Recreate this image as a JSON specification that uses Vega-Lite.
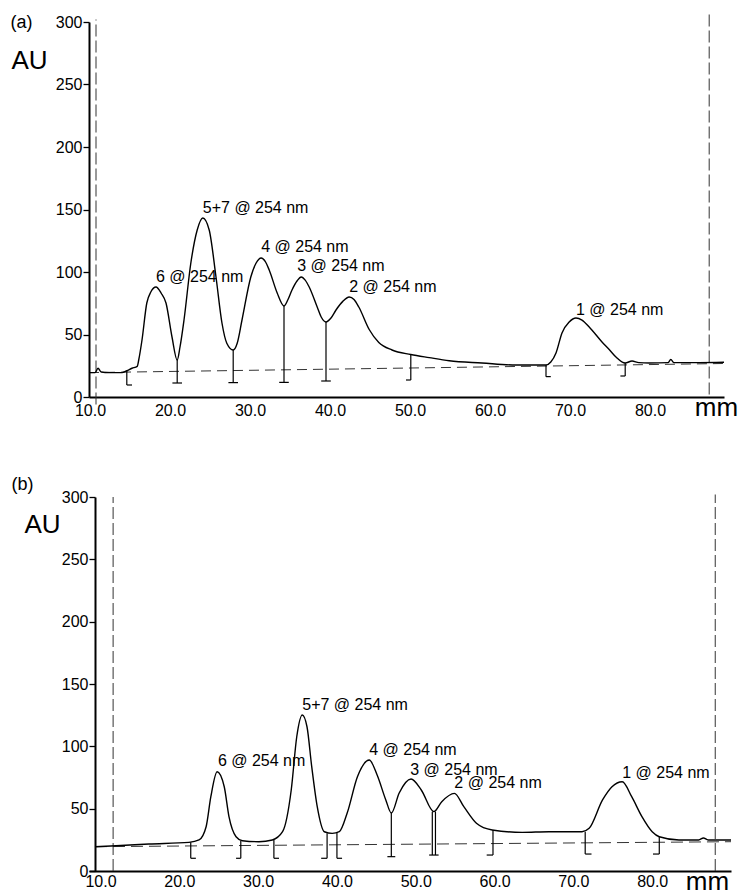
{
  "$schema": "https://vega.github.io/schema/vega-lite/v6.json",
  "autosize": {"type": "pad"},
  "padding": {"left": 10, "top": 13, "right": 0, "bottom": 0},
  "background": "white",
  "bounds": "flush",
  "spacing": 100,
  "config": {
    "view": {"stroke": null},
    "font": "Liberation Sans",
    "axis": {"grid": false, "domainColor": "black", "tickColor": "black", "labelColor": "black", "titleColor": "black", "labelFont": "Liberation Sans", "titleFont": "Liberation Sans", "titleFontWeight": "normal"}
  },
  "datasets": {
    "curveA": [
      {"mm": 9.875, "au": 19.5}, {"mm": 10.63, "au": 19.5}, {"mm": 11.0, "au": 23}, {"mm": 11.4, "au": 20}, {"mm": 12.4, "au": 19.5}, {"mm": 14.0, "au": 19.5}, {"mm": 14.6, "au": 21}, {"mm": 15.25, "au": 23}, {"mm": 15.9, "au": 24.5}, {"mm": 16.1, "au": 30}, {"mm": 16.5, "au": 45.6}, {"mm": 17.1, "au": 75.2}, {"mm": 17.6, "au": 84}, {"mm": 18.25, "au": 88}, {"mm": 18.9, "au": 83}, {"mm": 19.5, "au": 75.2}, {"mm": 20.25, "au": 48}, {"mm": 20.9, "au": 29.6}, {"mm": 21.25, "au": 40}, {"mm": 21.75, "au": 61.6}, {"mm": 22.6, "au": 107}, {"mm": 23.4, "au": 133.6}, {"mm": 24.1, "au": 143.2}, {"mm": 24.9, "au": 133.6}, {"mm": 25.75, "au": 96}, {"mm": 26.5, "au": 59}, {"mm": 27.1, "au": 43}, {"mm": 27.9, "au": 37.6}, {"mm": 28.4, "au": 43}, {"mm": 29.0, "au": 61.6}, {"mm": 30.1, "au": 96}, {"mm": 30.75, "au": 107}, {"mm": 31.4, "au": 111.2}, {"mm": 31.9, "au": 108.5}, {"mm": 32.4, "au": 101.6}, {"mm": 33.4, "au": 83.2}, {"mm": 34.25, "au": 72.8}, {"mm": 34.75, "au": 78}, {"mm": 35.25, "au": 85.6}, {"mm": 35.9, "au": 93}, {"mm": 36.4, "au": 96}, {"mm": 36.9, "au": 93.5}, {"mm": 37.4, "au": 88}, {"mm": 38.4, "au": 72}, {"mm": 38.9, "au": 64}, {"mm": 39.5, "au": 60}, {"mm": 40.1, "au": 63}, {"mm": 40.75, "au": 69.6}, {"mm": 41.6, "au": 76.5}, {"mm": 42.4, "au": 80}, {"mm": 43.0, "au": 78}, {"mm": 43.6, "au": 72}, {"mm": 44.9, "au": 54}, {"mm": 46.1, "au": 43.6}, {"mm": 47.75, "au": 37.6}, {"mm": 50.1, "au": 34}, {"mm": 52.4, "au": 31.5}, {"mm": 54.9, "au": 29}, {"mm": 59.0, "au": 27.2}, {"mm": 63.25, "au": 25.6}, {"mm": 67.0, "au": 25.6}, {"mm": 67.6, "au": 28}, {"mm": 68.25, "au": 35.2}, {"mm": 69.0, "au": 51.2}, {"mm": 69.9, "au": 60}, {"mm": 70.75, "au": 63.2}, {"mm": 71.5, "au": 61.5}, {"mm": 72.4, "au": 56}, {"mm": 74.0, "au": 44}, {"mm": 74.9, "au": 38}, {"mm": 75.75, "au": 32}, {"mm": 76.9, "au": 27.2}, {"mm": 77.75, "au": 28.8}, {"mm": 78.6, "au": 27.5}, {"mm": 79.9, "au": 27.2}, {"mm": 82.25, "au": 27.5}, {"mm": 82.6, "au": 30}, {"mm": 83.0, "au": 27.5}, {"mm": 86.1, "au": 27.5}, {"mm": 89.25, "au": 27.8}
    ],
    "baseA": [{"mm": 9.875, "au": 19.5}, {"mm": 89.25, "au": 26.8}],
    "vdashA": [{"mm": 10.75, "au": -6, "au2": 302}, {"mm": 87.4, "au": 2, "au2": 306}],
    "dropsA": [
      {"mm": 14.6, "mm2": 14.6, "au": 21, "au2": 9.6}, {"mm": 14.6, "mm2": 15.25, "au": 9.6, "au2": 9.6},
      {"mm": 20.9, "mm2": 20.9, "au": 29.6, "au2": 11.2}, {"mm": 20.3, "mm2": 21.5, "au": 11.2, "au2": 11.2},
      {"mm": 27.9, "mm2": 27.9, "au": 37.6, "au2": 11.5}, {"mm": 27.3, "mm2": 28.5, "au": 11.5, "au2": 11.5},
      {"mm": 34.25, "mm2": 34.25, "au": 72.8, "au2": 11.7}, {"mm": 33.65, "mm2": 34.85, "au": 11.7, "au2": 11.7},
      {"mm": 39.5, "mm2": 39.5, "au": 60, "au2": 12.8}, {"mm": 38.9, "mm2": 40.1, "au": 12.8, "au2": 12.8},
      {"mm": 50.1, "mm2": 50.1, "au": 34, "au2": 13.6}, {"mm": 49.5, "mm2": 50.1, "au": 13.6, "au2": 13.6},
      {"mm": 67.0, "mm2": 67.0, "au": 25.6, "au2": 16.3}, {"mm": 67.0, "mm2": 67.6, "au": 16.3, "au2": 16.3},
      {"mm": 76.9, "mm2": 76.9, "au": 27.2, "au2": 16.8}, {"mm": 76.3, "mm2": 76.9, "au": 16.8, "au2": 16.8}
    ],
    "labelsA": [
      {"mm": 18.25, "au": 96, "label": "6 @ 254 nm"},
      {"mm": 24.1, "au": 151, "label": "5+7 @ 254 nm"},
      {"mm": 31.4, "au": 120, "label": "4 @ 254 nm"},
      {"mm": 35.9, "au": 105, "label": "3 @ 254 nm"},
      {"mm": 42.4, "au": 88, "label": "2 @ 254 nm"},
      {"mm": 70.75, "au": 70, "label": "1 @ 254 nm"}
    ],
    "tagA": [{"mm": 1.44, "au": 299.6, "label": "(a)"}],
    "curveB": [
      {"mm": 9.3, "au": 19.5}, {"mm": 11.97, "au": 20.3}, {"mm": 16.15, "au": 21.7}, {"mm": 21.23, "au": 23}, {"mm": 22.5, "au": 24.9}, {"mm": 23.4, "au": 35.5}, {"mm": 24.0, "au": 59.6}, {"mm": 24.8, "au": 79.6}, {"mm": 25.7, "au": 67.6}, {"mm": 26.3, "au": 43.6}, {"mm": 27.2, "au": 27.5}, {"mm": 28.0, "au": 24.3}, {"mm": 30.1, "au": 23.5}, {"mm": 31.8, "au": 24.9}, {"mm": 33.1, "au": 31.5}, {"mm": 34.2, "au": 65}, {"mm": 34.9, "au": 107.7}, {"mm": 35.6, "au": 125.1}, {"mm": 36.2, "au": 115.7}, {"mm": 36.8, "au": 83.7}, {"mm": 37.5, "au": 51.6}, {"mm": 38.4, "au": 31.5}, {"mm": 39.4, "au": 30.2}, {"mm": 40.3, "au": 31.5}, {"mm": 41.3, "au": 46.5}, {"mm": 42.6, "au": 75.6}, {"mm": 44.1, "au": 89}, {"mm": 45.1, "au": 77}, {"mm": 46.2, "au": 57}, {"mm": 46.9, "au": 46.5}, {"mm": 47.9, "au": 62.6}, {"mm": 49.4, "au": 73.8}, {"mm": 50.7, "au": 65}, {"mm": 52.3, "au": 47.6}, {"mm": 53.3, "au": 55.6}, {"mm": 54.9, "au": 62.3}, {"mm": 56.1, "au": 51.6}, {"mm": 57.7, "au": 38.3}, {"mm": 59.7, "au": 32.9}, {"mm": 63.5, "au": 31}, {"mm": 66.9, "au": 31.5}, {"mm": 71.1, "au": 31.5}, {"mm": 72.0, "au": 34.2}, {"mm": 73.7, "au": 57}, {"mm": 74.9, "au": 67.6}, {"mm": 76.2, "au": 71.6}, {"mm": 77.4, "au": 59.6}, {"mm": 78.7, "au": 43.6}, {"mm": 80.0, "au": 31.5}, {"mm": 80.9, "au": 27.5}, {"mm": 83.4, "au": 24.9}, {"mm": 85.9, "au": 24.9}, {"mm": 86.5, "au": 26.5}, {"mm": 87.1, "au": 24.9}, {"mm": 90.0, "au": 24.9}
    ],
    "baseB": [{"mm": 9.3, "au": 19.5}, {"mm": 90.0, "au": 23.5}],
    "vdashB": [{"mm": 11.6, "au": 0, "au2": 300}, {"mm": 88.0, "au": 0, "au2": 302}],
    "dropsB": [
      {"mm": 21.45, "mm2": 21.45, "au": 23, "au2": 10.2}, {"mm": 21.45, "mm2": 22.1, "au": 10.2, "au2": 10.2},
      {"mm": 27.8, "mm2": 27.8, "au": 24.3, "au2": 10.2}, {"mm": 27.2, "mm2": 27.8, "au": 10.2, "au2": 10.2},
      {"mm": 32.0, "mm2": 32.0, "au": 24.9, "au2": 10.2}, {"mm": 32.0, "mm2": 32.65, "au": 10.2, "au2": 10.2},
      {"mm": 38.75, "mm2": 38.75, "au": 30.2, "au2": 10.2}, {"mm": 38.0, "mm2": 38.75, "au": 10.2, "au2": 10.2},
      {"mm": 40.0, "mm2": 40.0, "au": 31, "au2": 10.2}, {"mm": 40.0, "mm2": 40.65, "au": 10.2, "au2": 10.2},
      {"mm": 46.9, "mm2": 46.9, "au": 46.5, "au2": 11.5}, {"mm": 46.4, "mm2": 47.4, "au": 11.5, "au2": 11.5},
      {"mm": 52.1, "mm2": 52.1, "au": 47.6, "au2": 12.8}, {"mm": 52.5, "mm2": 52.5, "au": 47.6, "au2": 12.8}, {"mm": 51.7, "mm2": 52.9, "au": 12.8, "au2": 12.8},
      {"mm": 59.8, "mm2": 59.8, "au": 32.9, "au2": 12.8}, {"mm": 59.0, "mm2": 59.8, "au": 12.8, "au2": 12.8},
      {"mm": 71.5, "mm2": 71.5, "au": 31.5, "au2": 13.6}, {"mm": 71.5, "mm2": 72.3, "au": 13.6, "au2": 13.6},
      {"mm": 80.9, "mm2": 80.9, "au": 27.5, "au2": 13.6}, {"mm": 80.1, "mm2": 80.9, "au": 13.6, "au2": 13.6}
    ],
    "labelsB": [
      {"mm": 24.9, "au": 88.5, "label": "6 @ 254 nm"},
      {"mm": 35.6, "au": 133, "label": "5+7 @ 254 nm"},
      {"mm": 44.1, "au": 97, "label": "4 @ 254 nm"},
      {"mm": 49.3, "au": 81, "label": "3 @ 254 nm"},
      {"mm": 54.9, "au": 70.3, "label": "2 @ 254 nm"},
      {"mm": 76.2, "au": 79, "label": "1 @ 254 nm"}
    ],
    "tagB": [{"mm": 0.1, "au": 310, "label": "(b)"}]
  },
  "vconcat": [
    {
      "width": 635,
      "height": 375,
      "encoding": {
        "x": {"field": "mm", "type": "quantitative", "scale": {"domain": [9.875, 89.25], "nice": false, "zero": false},
          "axis": {"values": [10, 20, 30, 40, 50, 60, 70, 80], "format": ".1f", "title": "mm", "titleX": 627, "titleY": 18, "titleAlign": "center", "titleBaseline": "alphabetic", "titleFontSize": 26, "ticks": false, "tickSize": 0, "labelPadding": 5, "labelFontSize": 16, "domainWidth": 1.8, "labelFlush": false}},
        "y": {"field": "au", "type": "quantitative", "scale": {"domain": [0, 300], "nice": false},
          "axis": {"values": [0, 50, 100, 150, 200, 250, 300], "title": "AU", "titleAngle": 0, "titleX": -60, "titleY": 38, "titleAlign": "center", "titleBaseline": "middle", "titleFontSize": 26, "labelFontSize": 16, "tickSize": 6, "labelPadding": 1, "domainWidth": 2, "tickWidth": 1.3}}
      },
      "layer": [
        {"data": {"name": "baseA"}, "mark": {"type": "line", "color": "#333", "strokeWidth": 1, "strokeDash": [10, 6]}},
        {"data": {"name": "vdashA"}, "mark": {"type": "rule", "color": "#333", "strokeWidth": 1, "strokeDash": [12, 4], "clip": false}, "encoding": {"y2": {"field": "au2"}}},
        {"data": {"name": "curveA"}, "mark": {"type": "line", "color": "black", "strokeWidth": 1.4, "interpolate": "monotone"}},
        {"data": {"name": "dropsA"}, "mark": {"type": "rule", "color": "black", "strokeWidth": 1.2}, "encoding": {"x2": {"field": "mm2"}, "y2": {"field": "au2"}}},
        {"data": {"name": "labelsA"}, "mark": {"type": "text", "align": "left", "baseline": "middle", "fontSize": 16, "font": "Liberation Sans", "color": "black"}, "encoding": {"text": {"field": "label"}}},
        {"data": {"name": "tagA"}, "mark": {"type": "text", "align": "center", "baseline": "middle", "fontSize": 18, "font": "Liberation Sans", "color": "black", "clip": false}, "encoding": {"text": {"field": "label"}}}
      ]
    },
    {
      "width": 642,
      "height": 374,
      "encoding": {
        "x": {"field": "mm", "type": "quantitative", "scale": {"domain": [8.54, 90.0], "nice": false, "zero": false},
          "axis": {"values": [10, 20, 30, 40, 50, 60, 70, 80], "format": ".1f", "title": "mm", "titleX": 618, "titleY": 18, "titleAlign": "center", "titleBaseline": "alphabetic", "titleFontSize": 26, "ticks": false, "tickSize": 0, "labelPadding": 2, "labelFontSize": 16, "domainWidth": 1.8, "labelFlush": false}},
        "y": {"field": "au", "type": "quantitative", "scale": {"domain": [0, 300], "nice": false},
          "axis": {"values": [0, 50, 100, 150, 200, 250, 300], "offset": -6, "title": "AU", "titleAngle": 0, "titleX": -53, "titleY": 27, "titleAlign": "center", "titleBaseline": "middle", "titleFontSize": 26, "labelFontSize": 16, "tickSize": 6, "labelPadding": 1, "domainWidth": 2, "tickWidth": 1.3}}
      },
      "layer": [
        {"data": {"name": "baseB"}, "mark": {"type": "line", "color": "#333", "strokeWidth": 1, "strokeDash": [12, 6]}},
        {"data": {"name": "vdashB"}, "mark": {"type": "rule", "color": "#333", "strokeWidth": 1, "strokeDash": [12, 4], "clip": false}, "encoding": {"y2": {"field": "au2"}}},
        {"data": {"name": "curveB"}, "mark": {"type": "line", "color": "black", "strokeWidth": 1.4, "interpolate": "monotone"}},
        {"data": {"name": "dropsB"}, "mark": {"type": "rule", "color": "black", "strokeWidth": 1.2}, "encoding": {"x2": {"field": "mm2"}, "y2": {"field": "au2"}}},
        {"data": {"name": "labelsB"}, "mark": {"type": "text", "align": "left", "baseline": "middle", "fontSize": 16, "font": "Liberation Sans", "color": "black"}, "encoding": {"text": {"field": "label"}}},
        {"data": {"name": "tagB"}, "mark": {"type": "text", "align": "center", "baseline": "middle", "fontSize": 18, "font": "Liberation Sans", "color": "black", "clip": false}, "encoding": {"text": {"field": "label"}}}
      ]
    }
  ]
}
